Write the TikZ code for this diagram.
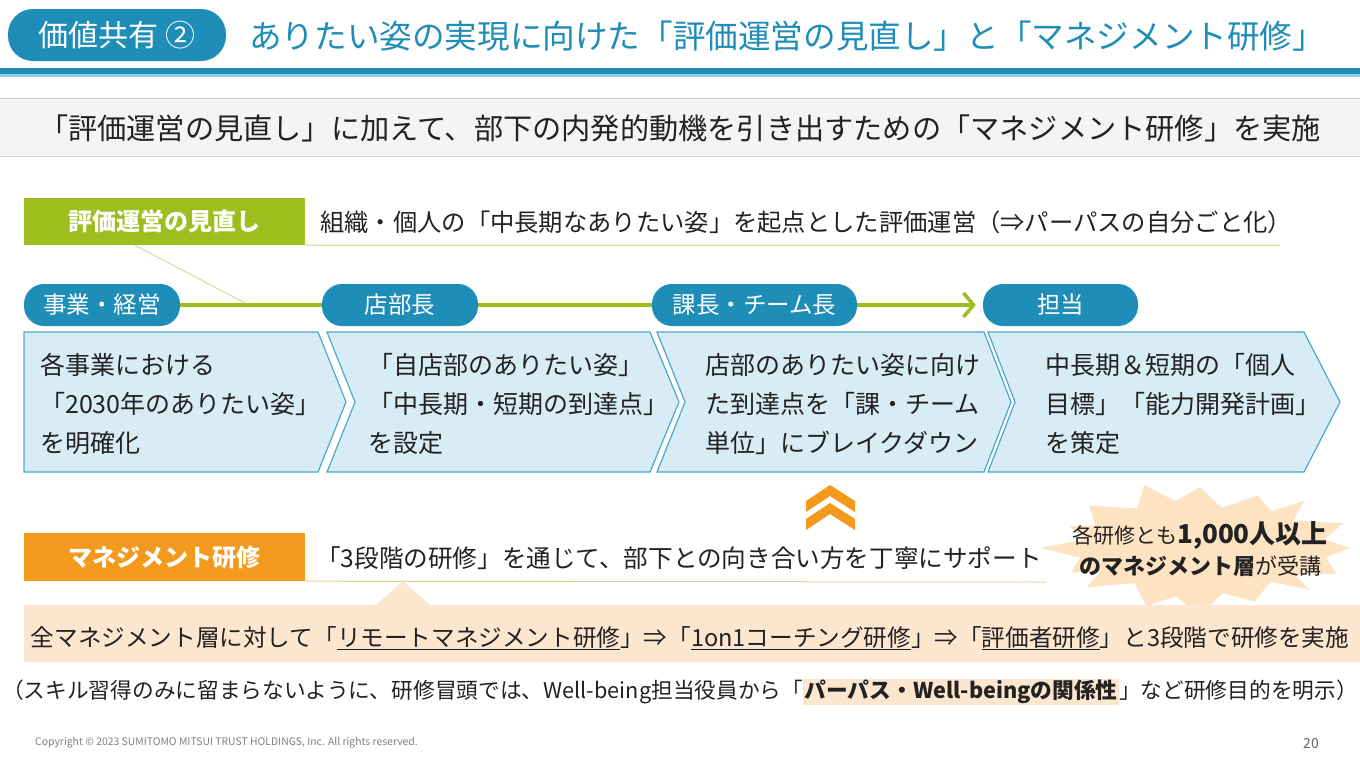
\documentclass[tikz,border=0pt]{standalone}
\usepackage{fontspec}
\setmainfont{Noto Sans CJK JP}
\usetikzlibrary{arrows.meta,calc}
\definecolor{skteal}{HTML}{1E8DB8}
\definecolor{sklightblue}{HTML}{8FCBE3}
\definecolor{skgreen}{HTML}{9EBE1E}
\definecolor{skgreenline}{HTML}{C9D690}
\definecolor{skchevfill}{HTML}{D7ECF5}
\definecolor{skchevline}{HTML}{4AA8CC}
\definecolor{skorange}{HTML}{F39A1E}
\definecolor{skorangeline}{HTML}{F0CE9C}
\definecolor{skpeach}{HTML}{FCE6CF}
\definecolor{skburst}{HTML}{FDE3C2}
\definecolor{skgraybox}{HTML}{F4F4F4}
\definecolor{skgrayline}{HTML}{D0D0D0}
\definecolor{sktext}{HTML}{222222}
\newcommand{\fs}[1]{\fontsize{#1}{#1}\selectfont}
\tikzset{
  pill/.style={fill=skteal, text=white, rounded corners=20pt, minimum height=42pt, inner sep=0pt, font=\fs{23.5}},
  chev/.style={fill=skchevfill, draw=skchevline, line width=1.2pt},
  chevtext/.style={anchor=west, align=left, text=sktext, font=\fontsize{25}{39}\selectfont, inner sep=0pt},
  labelbox/.style={text=white, inner sep=0pt, font=\bfseries\fs{24}},
}
\begin{document}
\begin{tikzpicture}[x=1pt,y=-1pt]
\useasboundingbox (0,0) rectangle (1360,756);
\fill[white] (0,0) rectangle (1360,756);

% ---- title ----
\node[fill=skteal, text=white, rounded corners=25pt, minimum width=218pt, minimum height=52pt, inner sep=0pt, font=\fs{30}] (badge) at (117,35) {価値共有 ②};
\node[anchor=west, text=skteal, inner sep=0pt, font=\fs{32.6}] (title) at (249,36) {ありたい姿の実現に向けた「評価運営の見直し」と「マネジメント研修」};
\fill[skteal] (0,68) rectangle (1360,74);
\fill[sklightblue] (0,74) rectangle (1360,77);

% ---- subtitle ----
\fill[skgraybox] (0,98) rectangle (1360,156);
\draw[skgrayline, line width=0.8pt] (0,98) -- (1360,98);
\draw[skgrayline, line width=0.8pt] (0,156) -- (1360,156);
\node[text=sktext, inner sep=0pt, font=\fs{29.2}] (subtitle) at (680,128) {「評価運営の見直し」に加えて、部下の内発的動機を引き出すための「マネジメント研修」を実施};

% ---- evaluation row ----
\node[fill=skgreen, labelbox, minimum width=281pt, minimum height=47pt] (gbox) at (164.5,221.5) {評価運営の見直し};
\node[anchor=west, text=sktext, inner sep=0pt, font=\fs{24.3}] (gtext) at (320,222) {組織・個人の「中長期なありたい姿」を起点とした評価運営（⇒パーパスの自分ごと化）};
\coordinate (gend) at (1280,245);
\draw[skgreenline, line width=1pt] (gbox.south east) -- (gend);

% ---- pills and arrow ----
\node[pill, minimum width=156pt] (p1) at (102,305) {事業・経営};
\node[pill, minimum width=155pt] (p4) at (1060.5,305) {担当};
\coordinate (callA) at ($(gbox.south west)+(111,0)$);
\coordinate (callB) at (245,303);
\draw[skgreen, line width=3.5pt, shorten >=7pt, -{Straight Barb[length=10pt,width=24pt,line width=3.5pt]}] (p1.east) -- (p4.west);
\draw[skgreenline, line width=0.8pt] (callA) -- (callB);
\node[pill, minimum width=156pt] (p2) at (400,305) {店部長};
\node[pill, minimum width=205pt] (p3) at (754.5,305) {課長・チーム長};

% ---- chevrons ----
\draw[chev] (24,332) -- (318,332) -- (346,402) -- (318,472) -- (24,472) -- cycle;
\draw[chev] (327,332) -- (650,332) -- (679,402) -- (650,472) -- (327,472) -- (355,402) -- cycle;
\draw[chev] (657,332) -- (984,332) -- (1011,402) -- (984,472) -- (657,472) -- (685,402) -- cycle;
\draw[chev] (988,332) -- (1304,332) -- (1340,402) -- (1304,472) -- (988,472) -- (1015,402) -- cycle;
\node[chevtext] (c1) at (40,404) {各事業における\\「2030年のありたい姿」\\を明確化};
\node[chevtext] (c2) at (368,404) {「自店部のありたい姿」\\「中長期・短期の到達点」\\を設定};
\node[chevtext] (c3) at (705,404) {店部のありたい姿に向け\\た到達点を「課・チーム\\単位」にブレイクダウン};
\node[chevtext] (c4) at (1045,404) {中長期＆短期の「個人\\目標」「能力開発計画」\\を策定};

% ---- up chevrons ----
\fill[skorange] (806,501) -- (830,485) -- (855,501) -- (855,512) -- (830,496) -- (806,512) -- cycle;
\fill[skorange] (806,519) -- (830,503) -- (855,519) -- (855,530) -- (830,514) -- (806,530) -- cycle;

% ---- starburst ----
\fill[skburst] plot[samples at={0,...,31}, variable=\k] ({1200+(150-30*mod(\k,2))*(1+0.07*sin(\k*97))*cos(\k*11.25)}, {548+(62-17*mod(\k,2))*(1+0.1*sin(\k*53))*sin(\k*11.25)}) -- cycle;
\node[text=sktext, inner sep=0pt, align=center] (burst) at (1200,549) {{\fs{21}各研修とも}{\bfseries\fs{26}1,000人以上}\\[6pt]{\bfseries\fs{22}のマネジメント層}{\fs{22}が受講}};

% ---- management row ----
\node[fill=skorange, labelbox, minimum width=281pt, minimum height=48pt] (obox) at (164.5,557) {マネジメント研修};
\node[anchor=west, text=sktext, inner sep=0pt, font=\fs{24.6}] (otext) at (316,558) {「3段階の研修」を通じて、部下との向き合い方を丁寧にサポート};
\coordinate (oend) at (1046,582);
\draw[skorangeline, line width=1pt] (obox.south east) -- (oend);

% ---- peach box ----
\fill[skpeach] (24,605) -- (376,605) -- (403,581) -- (430,605) -- (1360,605) -- (1360,662) -- (24,662) -- cycle;
\node[text=sktext, inner sep=0pt, font=\fs{23.6}] (ptext) at (690,638) {全マネジメント層に対して「\underline{リモートマネジメント研修}」⇒「\underline{1on1コーチング研修}」⇒「\underline{評価者研修}」と3段階で研修を実施};

% ---- note ----
\setlength{\fboxsep}{1.5pt}
\node[text=sktext, inner sep=0pt, font=\fs{21.7}] (note) at (680,692) {（スキル習得のみに留まらないように、研修冒頭では、Well-being担当役員から「\colorbox{skpeach}{\bfseries パーパス・Well-beingの関係性}」など研修目的を明示）};

% ---- footer ----
\node[anchor=west, text=gray, inner sep=0pt, font=\fs{10.4}] (copy) at (35,743) {Copyright © 2023 SUMITOMO MITSUI TRUST HOLDINGS, Inc. All rights reserved.};
\node[text=gray!80!black, inner sep=0pt, font=\fs{14}] (page) at (1311,743) {20};
\end{tikzpicture}
\end{document}
